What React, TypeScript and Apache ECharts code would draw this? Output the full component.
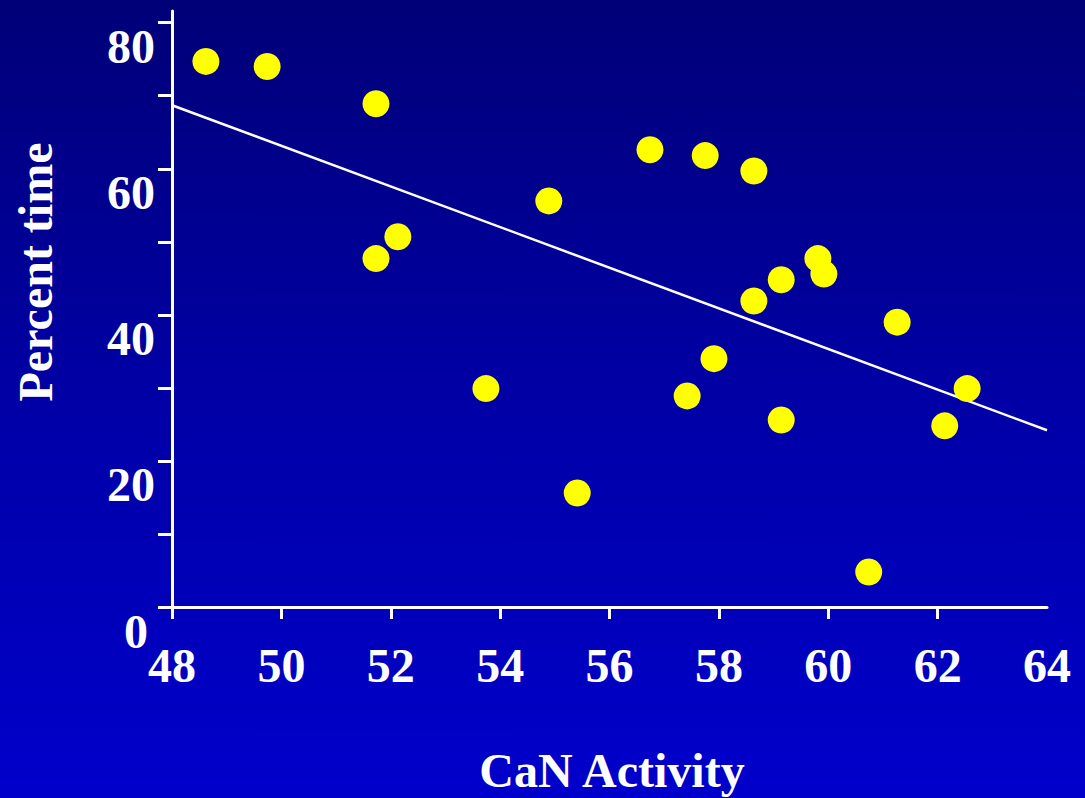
import React, { useEffect, useRef } from "react";
import * as echarts from "echarts";

// CaN activity (x) vs percent time (y) for each subject
const canActivity = [
  48.62, 49.74, 51.73, 51.73, 52.13, 53.74, 54.89, 55.41, 56.74, 57.42, 57.75,
  57.91, 58.64, 58.64, 59.14, 59.14, 59.81, 59.92, 60.74, 61.26, 62.13, 62.54,
];
const percentTime = [
  74.7, 74.0, 68.9, 47.7, 50.7, 29.9, 55.6, 15.6, 62.6, 28.9, 61.8,
  34.0, 59.7, 41.9, 44.8, 25.6, 47.7, 45.6, 4.8, 39.0, 24.8, 29.9,
];

// Fitted regression line end points
const fitX = [48, 64];
const fitY = [68.7, 24.2];

const xTickValues = [48, 50, 52, 54, 56, 58, 60, 62];
const xLabelValues = [48, 50, 52, 54, 56, 58, 60, 62, 64];
const yTickValues = [0, 10, 20, 30, 40, 50, 60, 70, 80];
const yLabelValues = [0, 20, 40, 60, 80];

const FONT = "'Liberation Serif', 'Times New Roman', serif";

export default function App() {
  const ref = useRef<HTMLDivElement>(null);

  useEffect(() => {
    if (!ref.current) return;
    const chart = echarts.init(ref.current, undefined, { renderer: "svg" });
    const points = canActivity.map((x, i) => [x, percentTime[i]]);
    const fit = fitX.map((x, i) => [x, fitY[i]]);

    chart.setOption({
      animation: false,
      backgroundColor: {
        type: "linear",
        x: 0,
        y: 0,
        x2: 0,
        y2: 1,
        colorStops: [
          { offset: 0, color: "#000078" },
          { offset: 0.5, color: "#0000a6" },
          { offset: 1, color: "#0000cc" },
        ],
      },
      grid: { left: 172, right: 38, top: 11, bottom: 191, containLabel: false },
      xAxis: {
        type: "value",
        min: 48,
        max: 64,
        interval: 2,
        splitLine: { show: false },
        axisLine: { lineStyle: { color: "#ffffff", width: 3 } },
        axisTick: {
          show: true,
          length: 12,
          customValues: xTickValues,
          lineStyle: { color: "#ffffff", width: 3 },
        },
        axisLabel: {
          customValues: xLabelValues,
          color: "#ffffff",
          fontFamily: FONT,
          fontWeight: "bold",
          fontSize: 48,
          verticalAlign: "middle",
          margin: 58,
          showMinLabel: true,
          showMaxLabel: true,
        },
      },
      yAxis: {
        type: "value",
        min: 0,
        max: 81.6,
        interval: 10,
        splitLine: { show: false },
        axisLine: { lineStyle: { color: "#ffffff", width: 3 } },
        axisTick: {
          show: true,
          length: 14,
          customValues: yTickValues,
          lineStyle: { color: "#ffffff", width: 3 },
        },
        axisLabel: {
          customValues: yLabelValues,
          color: "#ffffff",
          fontFamily: FONT,
          fontWeight: "bold",
          fontSize: 48,
          verticalAlign: "top",
          margin: 17,
          formatter: (v: number) => (v === 0 ? "{z|0}" : String(v)),
          rich: {
            z: {
              color: "#ffffff",
              fontFamily: FONT,
              fontWeight: "bold",
              fontSize: 48,
              padding: [0, 7, 0, 0],
            },
          },
        },
      },
      graphic: [
        {
          type: "text",
          rotation: Math.PI / 2,
          x: 35,
          y: 272,
          style: {
            text: "Percent time",
            fill: "#ffffff",
            font: `bold 48px ${FONT}`,
            align: "center",
            verticalAlign: "middle",
          },
        },
        {
          type: "text",
          x: 612,
          y: 770,
          style: {
            text: "CaN Activity",
            fill: "#ffffff",
            font: `bold 48px ${FONT}`,
            align: "center",
            verticalAlign: "middle",
          },
        },
      ],
      series: [
        {
          type: "line",
          data: fit,
          symbol: "none",
          lineStyle: { color: "#ffffff", width: 2.5 },
          z: 2,
        },
        {
          type: "scatter",
          data: points,
          symbol: "circle",
          symbolSize: 27,
          itemStyle: { color: "#ffff00", opacity: 1 },
          z: 3,
        },
      ],
    });

    return () => chart.dispose();
  }, []);

  return (
    <div
      ref={ref}
      style={{ position: "fixed", left: 0, top: 0, width: 1085, height: 798 }}
    />
  );
}
